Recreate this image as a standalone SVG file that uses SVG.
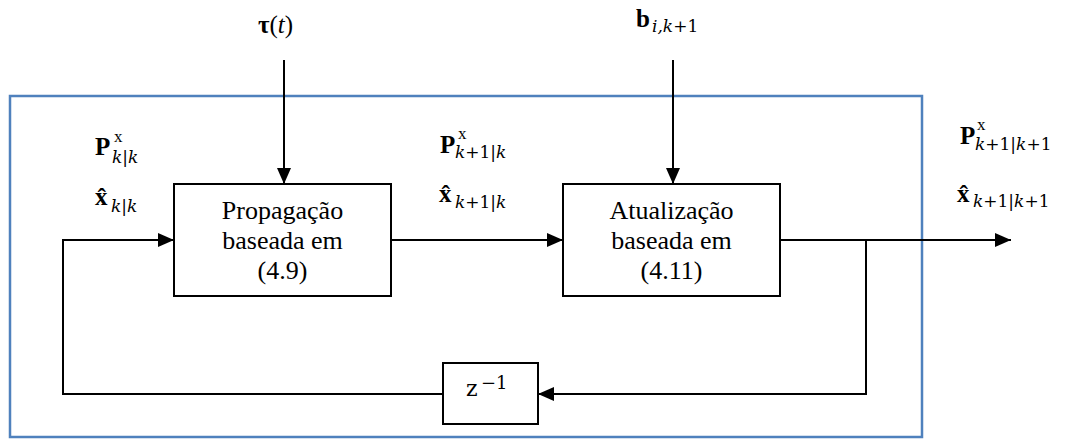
<svg xmlns="http://www.w3.org/2000/svg" width="1065" height="441" viewBox="0 0 1065 441">
<style>
.box{fill:#fff;stroke:#000;stroke-width:2}
.ln{fill:none;stroke:#000;stroke-width:2}
.bt{font-size:26px;text-anchor:middle;fill:#000}
.mb{font-weight:bold;font-size:25px;fill:#000}
.sup{font-size:17px;fill:#000}
.sub{font-style:italic;font-size:17px;fill:#000}
.up{font-style:normal}
</style>
<defs>
<marker id="ah" markerWidth="16" markerHeight="14" refX="16" refY="7" orient="auto" markerUnits="userSpaceOnUse">
<path d="M0,0 L16,7 L0,14 Z" fill="#000"/>
</marker>
</defs>
<rect id="frame" x="10" y="96" width="912" height="341" fill="none" stroke="#4f81bd" stroke-width="2.5"/>
<g id="connectors">
<line class="ln" x1="284" y1="60" x2="284" y2="184" marker-end="url(#ah)"/>
<line class="ln" x1="673" y1="60" x2="673" y2="184" marker-end="url(#ah)"/>
<line class="ln" x1="391" y1="240" x2="563" y2="240" marker-end="url(#ah)"/>
<line class="ln" x1="780" y1="240" x2="1011" y2="240" marker-end="url(#ah)"/>
<polyline class="ln" points="866,240 866,394 538,394" marker-end="url(#ah)"/>
<polyline class="ln" points="443,394 63,394 63,240 174,240" marker-end="url(#ah)"/>
</g>
<g id="propagacao" font-family="'Liberation Serif', 'Times New Roman', serif">
<rect class="box" x="174" y="184" width="217" height="112"/>
<text class="bt" x="282.5" y="219">Propagação</text>
<text class="bt" x="282.5" y="249">baseada em</text>
<text class="bt" x="282.5" y="279">(4.9)</text>
</g>
<g id="atualizacao" font-family="'Liberation Serif', 'Times New Roman', serif">
<rect class="box" x="563" y="184" width="217" height="112"/>
<text class="bt" x="671.5" y="219">Atualização</text>
<text class="bt" x="671.5" y="249">baseada em</text>
<text class="bt" x="671.5" y="279">(4.11)</text>
</g>
<g id="delay" font-family="'DejaVu Serif', serif">
<rect class="box" x="443" y="363" width="95" height="61"/>
<text x="466" y="396" font-size="22">z</text>
<text x="481" y="389" font-size="18">−1</text>
</g>
<g id="tau" font-family="'Liberation Serif', serif">
<text x="258" y="33" font-size="25"><tspan font-weight="bold">τ</tspan>(<tspan font-style="italic">t</tspan>)</text>
</g>
<g id="b">
<text class="mb" x="636" y="27" font-size="23" font-family="'Liberation Serif', serif">b</text>
<text class="sub" x="652" y="32" font-family="'DejaVu Serif', serif">i,k<tspan class="up">+1</tspan></text>
</g>
<g id="label-left">
<text class="mb" x="95" y="155" font-family="'Liberation Serif', serif">P</text>
<text class="sup" x="114" y="142" font-family="'Liberation Serif', serif">x</text>
<text class="sub" x="112" y="163" font-family="'DejaVu Serif', serif">k<tspan class="up">|</tspan>k</text>
<text class="mb" x="95" y="205" font-family="'Liberation Serif', serif">x̂</text>
<text class="sub" x="111" y="212" font-family="'DejaVu Serif', serif">k<tspan class="up">|</tspan>k</text>
</g>
<g id="label-mid">
<text class="mb" x="440" y="153" font-family="'Liberation Serif', serif">P</text>
<text class="sup" x="458" y="139" font-family="'Liberation Serif', serif">x</text>
<text class="sub" x="455" y="158" font-family="'DejaVu Serif', serif">k<tspan class="up">+1|</tspan>k</text>
<text class="mb" x="439" y="202" font-family="'Liberation Serif', serif">x̂</text>
<text class="sub" x="455" y="208" font-family="'DejaVu Serif', serif">k<tspan class="up">+1|</tspan>k</text>
</g>
<g id="label-right">
<text class="mb" x="960" y="144" font-family="'Liberation Serif', serif">P</text>
<text class="sup" x="977" y="130" font-family="'Liberation Serif', serif">x</text>
<text class="sub" x="975" y="150" font-family="'DejaVu Serif', serif">k<tspan class="up">+1|</tspan>k<tspan class="up">+1</tspan></text>
<text class="mb" x="957" y="202" font-family="'Liberation Serif', serif">x̂</text>
<text class="sub" x="973" y="207" font-family="'DejaVu Serif', serif">k<tspan class="up">+1|</tspan>k<tspan class="up">+1</tspan></text>
</g>
</svg>
